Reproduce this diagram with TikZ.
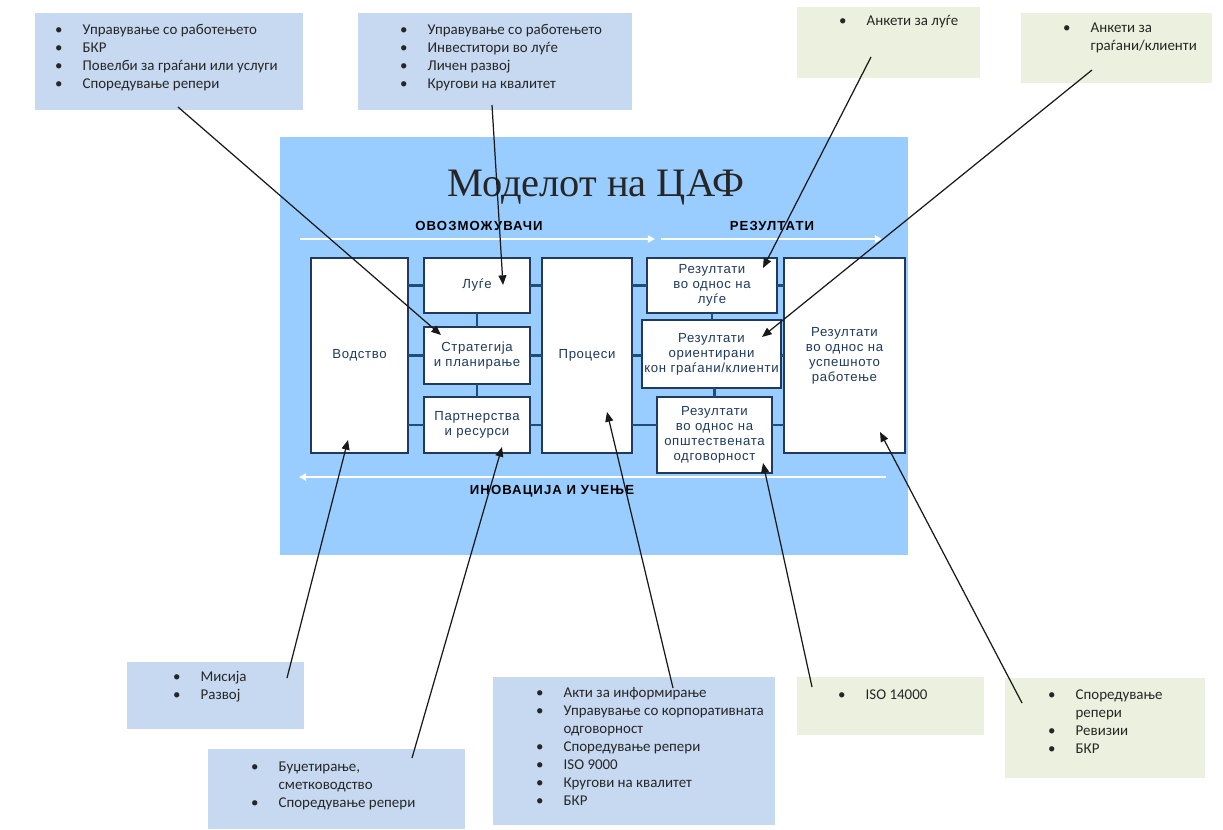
\documentclass[tikz,border=0pt]{standalone}
\usepackage{fontspec}
\setmainfont{Carlito}
\newfontfamily\boxfont[LetterSpace=5]{Liberation Sans}
\newfontfamily\headfont[LetterSpace=8]{Liberation Sans}
\newfontfamily\titlefont{Liberation Serif}
\usetikzlibrary{arrows.meta}
\definecolor{listblue}{HTML}{C6D9F1}
\definecolor{listgreen}{HTML}{EBF1DE}
\definecolor{mainblue}{HTML}{99CCFF}
\definecolor{boxline}{HTML}{1F3A5C}
\definecolor{connline}{HTML}{1F4E79}
\newcommand\blist[1]{{\fontsize{8.5}{10.3}\selectfont\begin{tabular}[t]{@{}l@{\hspace{11.5pt}}l@{}}#1\end{tabular}}}
\tikzset{
  listbox/.style={fill=listblue, draw=none, inner sep=0pt, outer sep=0pt},
  greenbox/.style={fill=listgreen, draw=none, inner sep=0pt, outer sep=0pt},
  listtext/.style={anchor=base west, inner sep=0pt, outer sep=0pt, text=black!85},
  mbox/.style={fill=white, draw=boxline, line width=1pt, inner sep=0pt, outer sep=0pt, align=center,
    font=\boxfont\fontsize{7.5}{8.6}\selectfont, text=boxline},
  conn/.style={draw=connline, line width=1.3pt},
  flow/.style={draw=white, line width=1.3pt, -{Triangle[length=4pt,width=4pt]}},
  callout/.style={draw=black!90, line width=0.7pt, -{Triangle[length=5.5pt,width=4.5pt]}},
  head/.style={font=\headfont\bfseries\fontsize{7.5}{9}\selectfont, text=black, inner sep=0pt}
}
\begin{document}
\begin{tikzpicture}[x=0.02cm, y=-0.02cm]
\useasboundingbox (0,0) rectangle (1223,829);
\fill[white] (0,0) rectangle (1223,829);

% main panel
\node[fill=mainblue, inner sep=0pt, outer sep=0pt, minimum width=12.56cm, minimum height=8.36cm] (main) at (594,346) {};
\node[font=\titlefont\fontsize{23}{27}\selectfont, text=black!85, inner sep=0pt] (title) at (596,187) {Моделот на ЦАФ};
\node[head] (enab) at (479,226) {ОВОЗМОЖУВАЧИ};
\node[head] (res) at (772,226) {РЕЗУЛТАТИ};
\node[head] (inov) at (552,491) {ИНОВАЦИЈА И УЧЕЊЕ};
\coordinate (fa1) at (300,239); \coordinate (fa2) at (655,239);
\coordinate (fb1) at (661,239); \coordinate (fb2) at (882,239);
\coordinate (fc1) at (886,477); \coordinate (fc2) at (299,477);
\draw[flow] (fa1) -- (fa2);
\draw[flow] (fb1) -- (fb2);
\draw[flow] (fc1) -- (fc2);

% connectors between model boxes (drawn first, boxes on top)
\coordinate (cy1) at (0,285.5);
\coordinate (cy2) at (0,355.5);
\coordinate (cy3) at (0,425);

% model boxes
\node[mbox, minimum width=1.94cm, minimum height=3.9cm] (vod) at (359.5,355.5) {Водство};
\node[mbox, minimum width=2.12cm, minimum height=1.1cm] (luge) at (477,285.5) {Луѓе};
\node[mbox, minimum width=2.12cm, minimum height=1.14cm] (strat) at (477,355.5) {Стратегија\\и планирање};
\node[mbox, minimum width=2.12cm, minimum height=1.12cm] (part) at (477,425) {Партнерства\\и ресурси};
\node[mbox, minimum width=1.8cm, minimum height=3.9cm] (proc) at (587,355.5) {Процеси};
\node[mbox, minimum width=2.6cm, minimum height=1.1cm] (r1) at (712,285.5) {Резултати\\во однос на\\луѓе};
\node[mbox, minimum width=2.78cm, minimum height=1.36cm] (r2) at (711.5,354) {Резултати\\ориентирани\\кон граѓани/клиенти};
\node[mbox, minimum width=2.3cm, minimum height=1.52cm] (r3) at (714.5,435) {Резултати\\во однос на\\општествената\\одговорност};
\node[mbox, minimum width=2.42cm, minimum height=3.9cm] (rb) at (844.5,355.5) {Резултати\\во однос на\\успешното\\работење};

\draw[conn] (vod.east |- luge) -- (luge.west);
\draw[conn] (vod.east |- strat) -- (strat.west);
\draw[conn] (vod.east |- part) -- (part.west);
\draw[conn] (luge.east) -- (proc.west |- luge);
\draw[conn] (strat.east) -- (proc.west |- strat);
\draw[conn] (part.east) -- (proc.west |- part);
\draw[conn] (luge.south) -- (strat.north);
\draw[conn] (strat.south) -- (part.north);
\draw[conn] (proc.east |- r1) -- (r1.west);
\draw[conn] (proc.east |- strat) -- (r2.west |- strat);
\draw[conn] (proc.east |- part) -- (r3.west |- part);
\draw[conn] (r1.east) -- (rb.west |- r1);
\draw[conn] (r2.east |- strat) -- (rb.west |- strat);
\draw[conn] (r3.east |- part) -- (rb.west |- part);
\draw[conn] (r1.south) -- (r1.south |- r2.north);
\draw[conn] (r2.south -| r3.north) -- (r3.north);

% list boxes
\node[listbox, minimum width=5.36cm, minimum height=1.94cm] (tl) at (169,61.5) {};
\node[listtext] (tlt) at (55,34) {\blist{•&Управување со работењето\\•&БКР\\•&Повелби за граѓани или услуги\\•&Споредување репери}};
\node[listbox, minimum width=5.48cm, minimum height=1.94cm] (tm) at (495,61.5) {};
\node[listtext] (tmt) at (400,34) {\blist{•&Управување со работењето\\•&Инвеститори во луѓе\\•&Личен развој\\•&Кругови на квалитет}};
\node[greenbox, minimum width=3.66cm, minimum height=1.42cm] (g1) at (888.5,42.5) {};
\node[listtext] (g1t) at (839,25) {\blist{•&Анкети за луѓе}};
\node[greenbox, minimum width=3.82cm, minimum height=1.4cm] (g2) at (1116.5,48) {};
\node[listtext] (g2t) at (1063,32) {\blist{•&Анкети за\\&граѓани/клиенти}};
\node[listbox, minimum width=3.54cm, minimum height=1.34cm] (mis) at (215.5,695.5) {};
\node[listtext] (mist) at (173,681) {\blist{•&Мисија\\•&Развој}};
\node[listbox, minimum width=5.14cm, minimum height=1.6cm] (bud) at (336.5,789) {};
\node[listtext] (budt) at (251,771) {\blist{•&Буџетирање,\\&сметководство\\•&Споредување репери}};
\node[listbox, minimum width=5.64cm, minimum height=2.96cm] (akt) at (634,751) {};
\node[listtext] (aktt) at (536,697) {\blist{•&Акти за информирање\\•&Управување со корпоративната\\&одговорност\\•&Споредување репери\\•&ISO 9000\\•&Кругови на квалитет\\•&БКР}};
\node[greenbox, minimum width=3.74cm, minimum height=1.16cm] (iso) at (890.5,706) {};
\node[listtext] (isot) at (838,699) {\blist{•&ISO 14000}};
\node[greenbox, minimum width=4cm, minimum height=2cm] (spo) at (1105,728) {};
\node[listtext] (spot) at (1048,699) {\blist{•&Споредување\\&репери\\•&Ревизии\\•&БКР}};

% callout arrows
\coordinate (s1) at (178,107);  \coordinate (e1) at (441,335);
\coordinate (s2) at (492,105);  \coordinate (e2) at (503,285);
\coordinate (s3) at (871,57);   \coordinate (e3) at (763,268);
\coordinate (s4) at (1092,70);  \coordinate (e4) at (762,337);
\coordinate (s5) at (287,678);  \coordinate (e5) at (348,440);
\coordinate (s6) at (412,758);  \coordinate (e6) at (502,447);
\coordinate (s7) at (673,688);  \coordinate (e7) at (607,412);
\coordinate (s8) at (812,687);  \coordinate (e8) at (763,463);
\coordinate (s9) at (1022,703); \coordinate (e9) at (880,432);
\foreach \i in {1,...,9} {\draw[callout] (s\i) -- (e\i);}
\end{tikzpicture}
\end{document}
